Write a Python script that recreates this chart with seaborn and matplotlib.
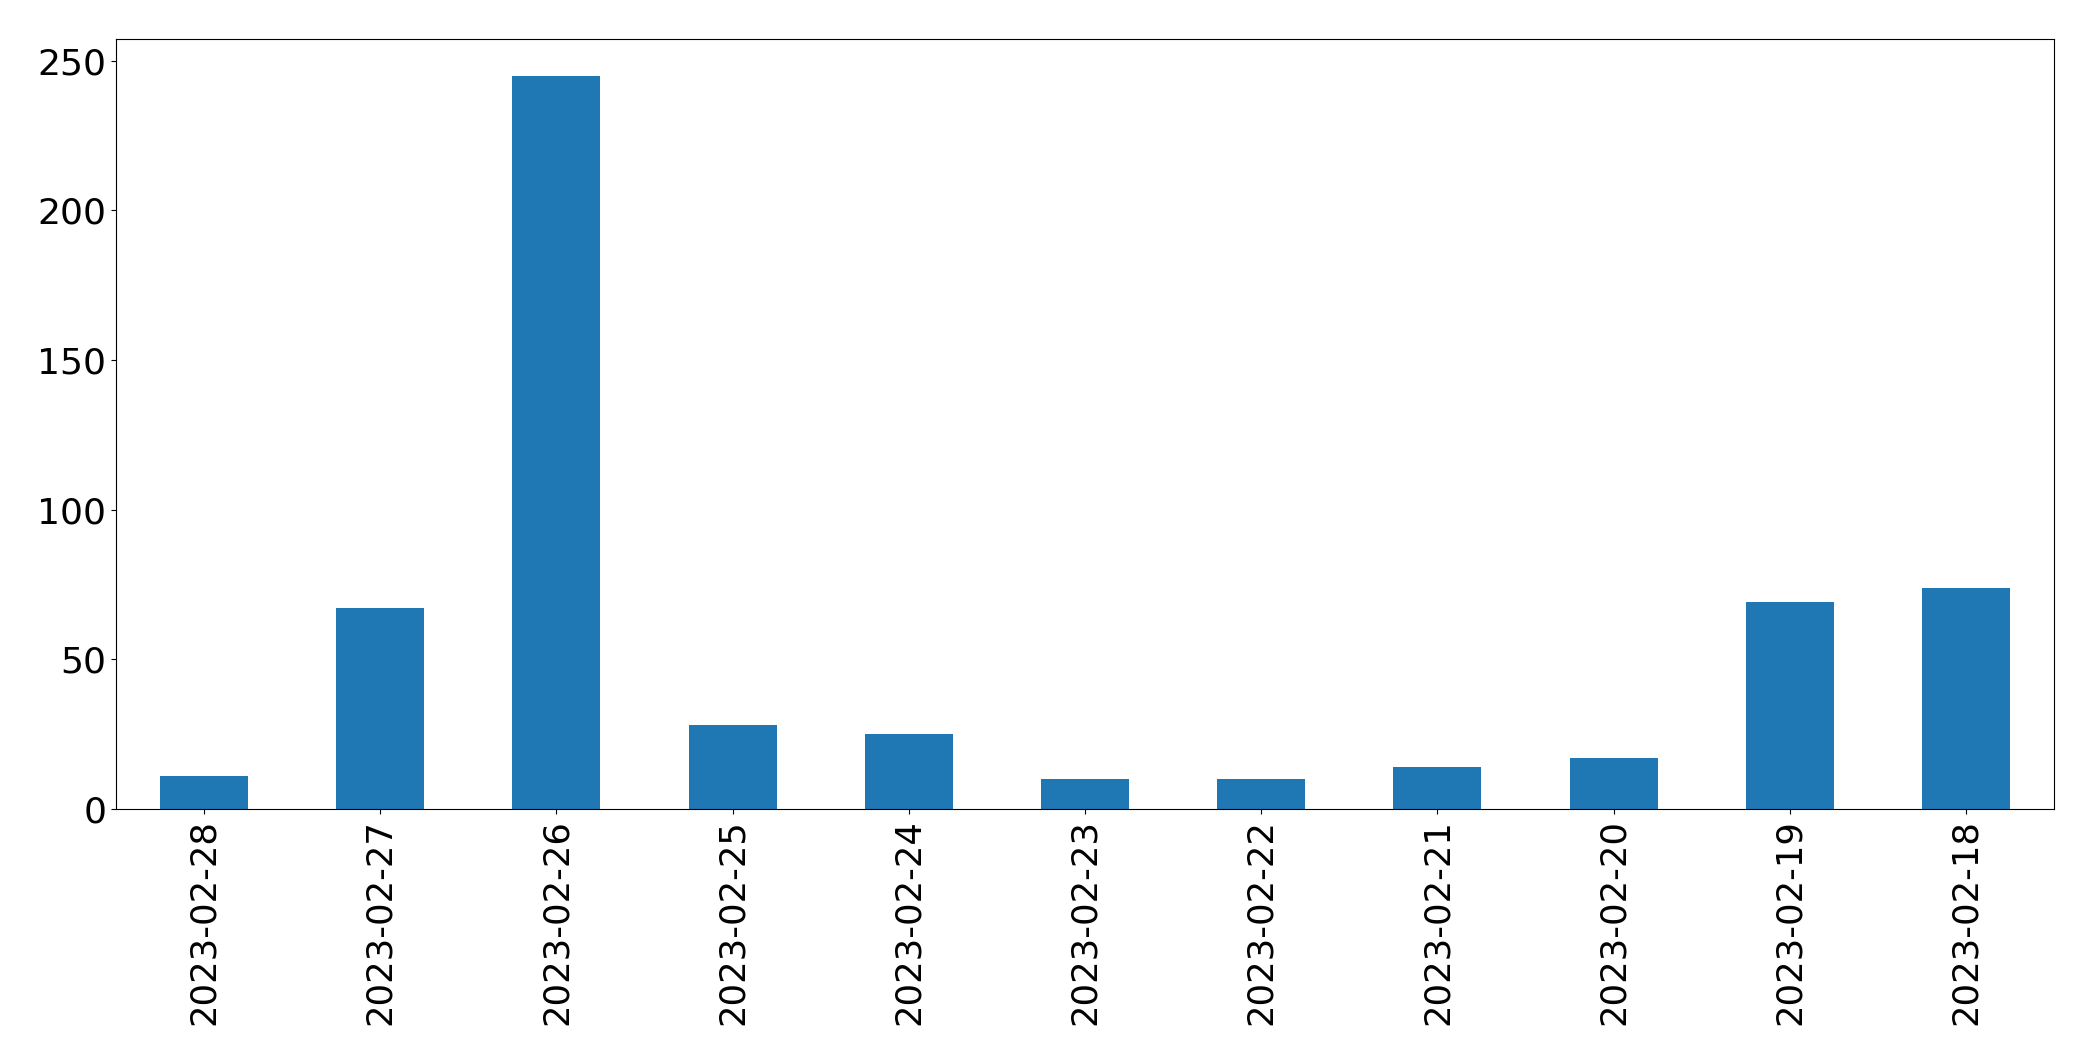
import matplotlib
matplotlib.use("Agg")
import matplotlib.pyplot as plt
import seaborn as sns
import pandas as pd

# daily counts, newest first (as in the original plot)
dates = ["2023-02-28", "2023-02-27", "2023-02-26", "2023-02-25", "2023-02-24",
         "2023-02-23", "2023-02-22", "2023-02-21", "2023-02-20", "2023-02-19",
         "2023-02-18"]
counts = [11, 67, 245, 28, 25, 10, 10, 14, 17, 69, 74]

df = pd.DataFrame({"date": dates, "count": counts})

fig = plt.figure(figsize=(20.93, 10.61), dpi=100)
ax = fig.add_axes([0.0554, 0.2375, 0.926, 0.7257])

sns.barplot(data=df, x="date", y="count", color="#1f77b4", saturation=1,
            width=0.5, ax=ax)

ax.set_xlim(-0.5, len(dates) - 0.5)
ax.set_ylim(0, max(counts) * 1.05)
ax.set_xlabel("")
ax.set_ylabel("")
ax.tick_params(axis="x", labelrotation=90, labelsize=25.5)
ax.tick_params(axis="y", labelsize=26)
for s in ax.spines.values():
    s.set_color("black")

fig.savefig("out.png", dpi=100)
